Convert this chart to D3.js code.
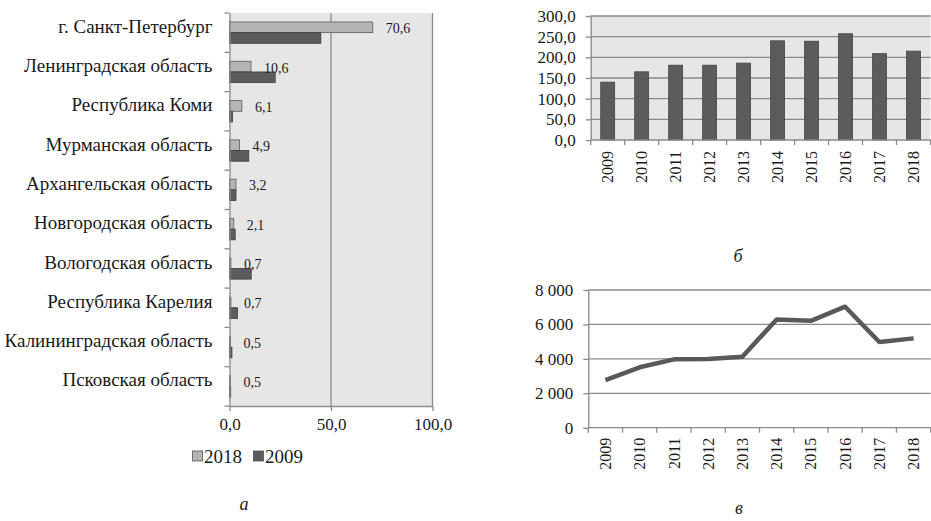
<!DOCTYPE html>
<head>
  <meta charset="utf-8">
  <script src="https://d3js.org/d3.v7.min.js"></script>
  <style>
    body { margin:0; background:#fff; }
    svg { display:block; font-family:"Liberation Serif","Times New Roman",serif; }
    text { fill:#1a1a1a; }
  </style>
</head>

<body>
  <svg width="931" height="521"></svg>
  <script>
    // panel "а": share of regions, %
    var regions = ['г. Санкт-Петербург', 'Ленинградская область', 'Республика Коми',
      'Мурманская область', 'Архангельская область', 'Новгородская область',
      'Вологодская область', 'Республика Карелия', 'Калининградская область', 'Псковская область'];
    var share2018 = [70.6, 10.6, 6.1, 4.9, 3.2, 2.1, 0.7, 0.7, 0.5, 0.5];
    var share2009 = [45.0, 22.5, 1.5, 9.5, 3.2, 2.8, 10.7, 4.0, 1.2, 0.6];
    var seriesNames = ['2018', '2009'];
    var shareTicks = [0, 50, 100];

    // panels "б" and "в"
    var years = ['2009', '2010', '2011', '2012', '2013', '2014', '2015', '2016', '2017', '2018'];
    var barValues = [140, 165, 181, 181, 186, 240, 239, 257, 209, 215];
    var barTicks = [0, 50, 100, 150, 200, 250, 300];
    var lineValues = [2770, 3510, 3970, 3990, 4120, 6290, 6210, 7030, 4980, 5190];
    var lineTicks = [0, 2000, 4000, 6000, 8000];

    var ru = d3.formatLocale({decimal: ',', thousands: ' ', grouping: [3], currency: ['', '']});
    var fmt1 = ru.format('.1f');
    var fmtInt = ru.format(',d');

    var axisColor = '#8a8a8a';
    var plotBg = '#e6e6e6';
    var light = '#b5b5b5', dark = '#5c5c5c';

    var svg = d3.select('svg');

    // d3 axes put their own font on the group, drop it so the serif font is used
    function styleAxis(g, size) {
      g.attr('font-family', null).attr('font-size', null);
      g.select('.domain').attr('stroke', axisColor).attr('stroke-width', 1.3);
      g.selectAll('.tick line').attr('stroke', axisColor).attr('stroke-width', 1.3);
      g.selectAll('text').attr('font-size', size).attr('fill', '#1a1a1a');
    }

    // ---------- panel а ----------
    var a = {left: 229.5, right: 432.5, top: 13, bottom: 406};
    var xA = d3.scaleLinear().domain([0, 100]).range([a.left, a.right]);
    var yA = d3.scaleBand().domain(regions).range([a.top, a.bottom]);
    var ySub = d3.scaleBand().domain(seriesNames).range([0, yA.bandwidth()]).paddingOuter(0.84);

    var gA = svg.append('g');
    gA.append('rect').attr('x', a.left).attr('y', a.top)
      .attr('width', a.right - a.left).attr('height', a.bottom - a.top).attr('fill', plotBg);

    gA.selectAll('.grid').data(shareTicks.slice(1)).enter().append('line')
      .attr('x1', d => xA(d)).attr('x2', d => xA(d))
      .attr('y1', a.top).attr('y2', a.bottom)
      .attr('stroke', axisColor).attr('stroke-width', 1.3);

    var rowsA = regions.map((r, i) => ({region: r, v2018: share2018[i], v2009: share2009[i]}));
    var rowG = gA.selectAll('.row').data(rowsA).enter().append('g')
      .attr('transform', d => 'translate(0,' + yA(d.region) + ')');
    rowG.append('rect')
      .attr('x', xA(0)).attr('y', ySub('2018'))
      .attr('width', d => xA(d.v2018) - xA(0)).attr('height', ySub.bandwidth())
      .attr('fill', light).attr('stroke', '#5a5a5a').attr('stroke-width', 0.8);
    rowG.append('rect')
      .attr('x', xA(0)).attr('y', ySub('2009'))
      .attr('width', d => xA(d.v2009) - xA(0)).attr('height', ySub.bandwidth())
      .attr('fill', dark).attr('stroke', '#3f3f3f').attr('stroke-width', 0.8);
    rowG.append('text')
      .attr('x', d => xA(d.v2018) + 13)
      .attr('y', ySub('2018') + ySub.bandwidth() / 2 + 1)
      .attr('dy', '0.35em').attr('font-size', 14)
      .text(d => fmt1(d.v2018));

    // category axis
    var yAxisA = gA.append('g').attr('transform', 'translate(' + a.left + ',0)')
      .call(d3.axisLeft(yA).tickSize(0).tickPadding(17));
    styleAxis(yAxisA, 19);
    yAxisA.selectAll('text').attr('y', -6);
    gA.selectAll('.ctick').data(d3.range(regions.length + 1)).enter().append('line')
      .attr('x1', a.left - 5).attr('x2', a.left)
      .attr('y1', i => a.top + i * yA.step()).attr('y2', i => a.top + i * yA.step())
      .attr('stroke', axisColor).attr('stroke-width', 1.3);

    var xAxisA = gA.append('g').attr('transform', 'translate(0,' + a.bottom + ')')
      .call(d3.axisBottom(xA).tickValues(shareTicks).tickFormat(fmt1).tickSize(5).tickPadding(7).tickSizeOuter(0));
    styleAxis(xAxisA, 17);

    // legend
    var legend = gA.append('g').attr('transform', 'translate(192.5,451)');
    var legItems = [{name: '2018', fill: light, x: 0}, {name: '2009', fill: dark, x: 61}];
    legItems.forEach(function(it) {
      legend.append('rect').attr('x', it.x).attr('y', 0).attr('width', 10).attr('height', 10)
        .attr('fill', it.fill).attr('stroke', '#555').attr('stroke-width', 0.8);
      legend.append('text').attr('x', it.x + 11.5).attr('y', 12).attr('font-size', 19).text(it.name);
    });

    // ---------- panel б ----------
    var b = {left: 590.7, right: 930.5, top: 16, bottom: 140};
    var xB = d3.scaleBand().domain(years).range([b.left, b.right]).paddingInner(0.59).paddingOuter(0.295);
    var yB = d3.scaleLinear().domain([0, 300]).range([b.bottom, b.top]);
    var stepB = (b.right - b.left) / years.length;

    var gB = svg.append('g');
    gB.append('rect').attr('x', b.left).attr('y', b.top)
      .attr('width', b.right - b.left).attr('height', b.bottom - b.top).attr('fill', plotBg);
    gB.selectAll('.grid').data(barTicks.slice(1)).enter().append('line')
      .attr('x1', b.left).attr('x2', b.right)
      .attr('y1', d => yB(d)).attr('y2', d => yB(d))
      .attr('stroke', axisColor).attr('stroke-width', 1.3);

    gB.selectAll('.bar').data(years).enter().append('rect')
      .attr('x', d => xB(d)).attr('width', xB.bandwidth())
      .attr('y', (d, i) => yB(barValues[i])).attr('height', (d, i) => yB(0) - yB(barValues[i]))
      .attr('fill', dark).attr('stroke', '#444').attr('stroke-width', 0.8);

    var yAxisB = gB.append('g').attr('transform', 'translate(' + b.left + ',0)')
      .call(d3.axisLeft(yB).tickValues(barTicks).tickFormat(fmt1).tickSize(5).tickPadding(10).tickSizeOuter(0));
    styleAxis(yAxisB, 17);

    var xAxisB = gB.append('g').attr('transform', 'translate(0,' + b.bottom + ')')
      .call(d3.axisBottom(xB).tickSize(0).tickPadding(0));
    styleAxis(xAxisB, 16);
    xAxisB.select('.domain').remove();
    xAxisB.selectAll('text')
      .attr('text-anchor', 'end')
      .attr('transform', 'translate(0,11) rotate(-90)')
      .attr('y', 0).attr('dy', '0.35em');
    gB.append('line').attr('x1', b.left).attr('x2', b.right)
      .attr('y1', b.bottom).attr('y2', b.bottom).attr('stroke', axisColor).attr('stroke-width', 1.3);
    gB.selectAll('.xtick').data(d3.range(years.length + 1)).enter().append('line')
      .attr('x1', i => b.left + i * stepB).attr('x2', i => b.left + i * stepB)
      .attr('y1', b.bottom).attr('y2', b.bottom + 5)
      .attr('stroke', axisColor).attr('stroke-width', 1.3);

    // ---------- panel в ----------
    var c = {left: 588.3, right: 930.7, top: 290, bottom: 427.7};
    var xC = d3.scaleBand().domain(years).range([c.left, c.right]);
    var yC = d3.scaleLinear().domain([0, 8000]).range([c.bottom, c.top]);

    var gC = svg.append('g');
    gC.selectAll('.grid').data(lineTicks.slice(1)).enter().append('line')
      .attr('x1', c.left).attr('x2', c.right)
      .attr('y1', d => yC(d)).attr('y2', d => yC(d))
      .attr('stroke', axisColor).attr('stroke-width', 1.3);

    var yAxisC = gC.append('g').attr('transform', 'translate(' + c.left + ',0)')
      .call(d3.axisLeft(yC).tickValues(lineTicks).tickFormat(fmtInt).tickSize(5).tickPadding(10).tickSizeOuter(0));
    styleAxis(yAxisC, 17);

    var xAxisC = gC.append('g').attr('transform', 'translate(0,' + c.bottom + ')')
      .call(d3.axisBottom(xC).tickSize(0).tickPadding(0));
    styleAxis(xAxisC, 16);
    xAxisC.select('.domain').remove();
    xAxisC.selectAll('text')
      .attr('text-anchor', 'end')
      .attr('transform', 'translate(0,10) rotate(-90)')
      .attr('y', 0).attr('dy', '0.35em');
    gC.append('line').attr('x1', c.left).attr('x2', c.right)
      .attr('y1', c.bottom).attr('y2', c.bottom).attr('stroke', axisColor).attr('stroke-width', 1.3);
    gC.selectAll('.xtick').data(d3.range(years.length + 1)).enter().append('line')
      .attr('x1', i => c.left + i * xC.step()).attr('x2', i => c.left + i * xC.step())
      .attr('y1', c.bottom).attr('y2', c.bottom + 5)
      .attr('stroke', axisColor).attr('stroke-width', 1.3);

    var line = d3.line()
      .x((d, i) => xC(years[i]) + xC.bandwidth() / 2)
      .y(d => yC(d));
    gC.append('path').datum(lineValues)
      .attr('d', line).attr('fill', 'none')
      .attr('stroke', '#595959').attr('stroke-width', 4.5).attr('stroke-linejoin', 'round');

    // panel captions
    var captions = [{t: 'а', x: 244, y: 510}, {t: 'б', x: 738, y: 262}, {t: 'в', x: 739, y: 514}];
    svg.selectAll('.cap').data(captions).enter().append('text')
      .attr('x', d => d.x).attr('y', d => d.y)
      .attr('text-anchor', 'middle').attr('font-size', 18).attr('font-style', 'italic')
      .text(d => d.t);
  </script>
</body>
